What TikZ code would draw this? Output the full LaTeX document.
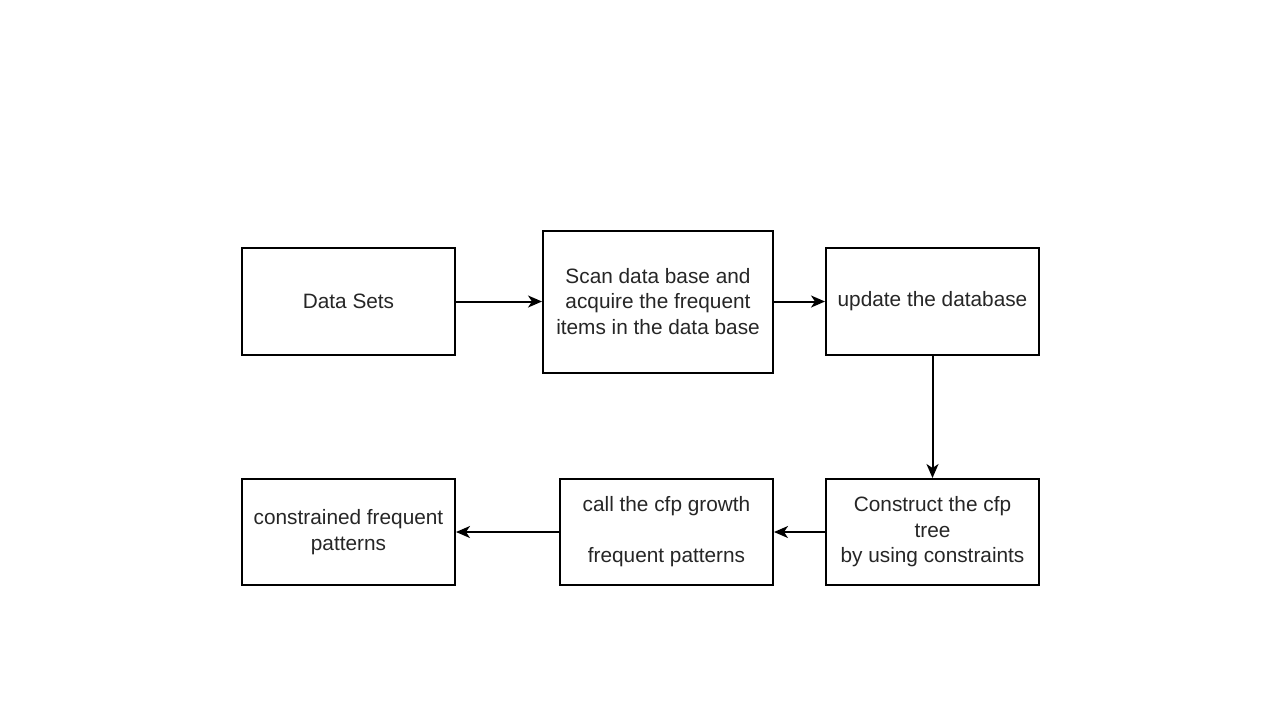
\documentclass[tikz,border=0pt]{standalone}
\usepackage{fontspec}
\setmainfont{Liberation Sans}
\usetikzlibrary{arrows.meta}
\begin{document}
\begin{tikzpicture}[x=0.5pt, y=-0.5pt,
  box/.style={draw, line width=1pt, align=center, inner sep=0pt, font=\fontsize{10.4}{12.8}\selectfont, text=black!85},
  flow/.style={-{Stealth[length=7pt, width=6pt, inset=2pt]}, line width=1pt}]
\useasboundingbox[fill=white] (0,0) rectangle (1280,720);
\node[box, minimum width=106.5pt, minimum height=53.5pt] (ds) at (348.5,301.5){Data Sets};
\node[box, minimum width=115pt, minimum height=71pt] (scan) at (658,301.5){Scan data base and\\acquire the frequent\\items in the data base};
\node[box, minimum width=106.5pt, minimum height=53.5pt] (upd) at (932.5,301.5){update the database};
\node[box, minimum width=106.5pt, minimum height=53pt] (cons) at (932.5,532){Construct the cfp\\tree\\by using constraints};
\node[box, minimum width=106.5pt, minimum height=53pt] (call) at (666.5,532){call the cfp growth\\[12.8pt]frequent patterns};
\node[box, minimum width=106.5pt, minimum height=53pt] (cfp) at (348.5,532){constrained frequent\\patterns};
\draw[flow](ds) -- (scan);
\draw[flow](scan) -- (upd);
\draw[flow](upd) -- (cons);
\draw[flow](cons) -- (call);
\draw[flow](call) -- (cfp);
\end{tikzpicture}
\end{document}
